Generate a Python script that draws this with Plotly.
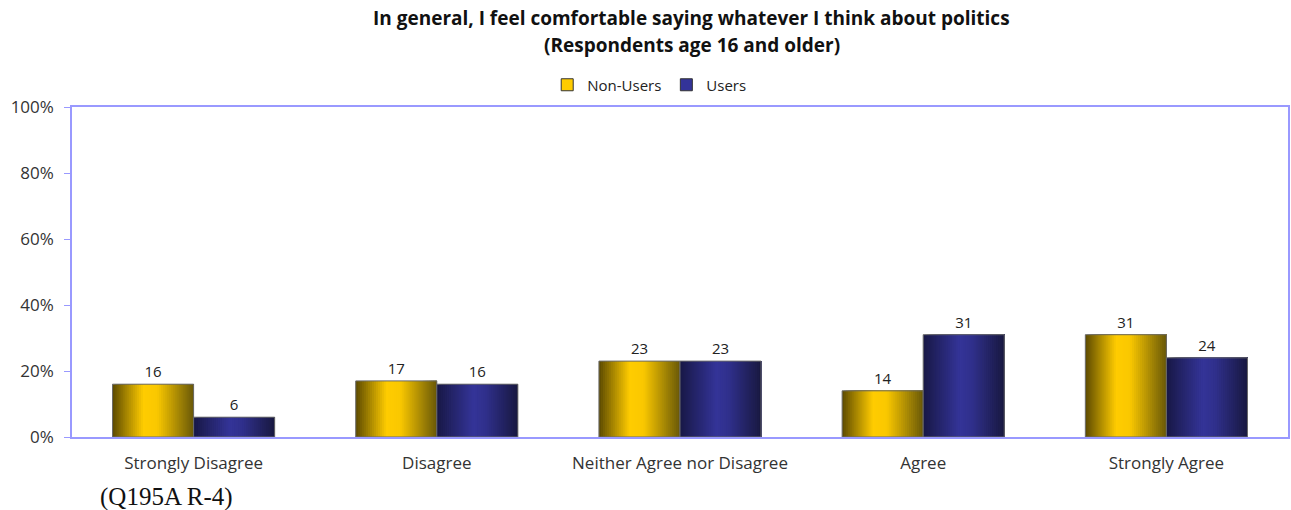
import plotly.graph_objects as go

categories = ["Strongly Disagree", "Disagree", "Neither Agree nor Disagree", "Agree", "Strongly Agree"]
non_users = [16, 17, 23, 14, 31]
users = [6, 16, 23, 31, 24]
y_ticks = [0, 20, 40, 60, 80, 100]
y_tick_labels = ["0%", "20%", "40%", "60%", "80%", "100%"]

BAR_W = 1 / 3
N_STRIPS = 40
FONT = "Open Sans"

def lerp(c1, c2, t):
    return tuple(int(round(a + (b - a) * t)) for a, b in zip(c1, c2))

def gradient(stops, t):
    for (p0, c0), (p1, c1) in zip(stops, stops[1:]):
        if p0 <= t <= p1:
            return lerp(c0, c1, (t - p0) / (p1 - p0))
    return stops[-1][1]

yellow_stops = [(0.0, (92, 74, 0)), (0.38, (255, 204, 0)), (0.55, (250, 200, 0)), (1.0, (105, 88, 8))]
blue_stops = [(0.0, (24, 24, 70)), (0.45, (52, 52, 152)), (0.6, (48, 48, 140)), (1.0, (24, 24, 64))]

series = [
    ("Non-Users", non_users, yellow_stops, -BAR_W, "#FFCC00"),
    ("Users", users, blue_stops, 0.0, "#333399"),
]

W, H = 1291, 510
ML, MT, MR, MB = 72, 107, 1, 73
PW, PH = W - ML - MR, H - MT - MB

def px_x(page_x):
    return (page_x - ML) / PW

def px_y(page_y):
    return 1 + (MT - page_y) / PH

fig = go.Figure()
for name, vals, stops, base_off, legend_col in series:
    sw = BAR_W / N_STRIPS
    for i in range(N_STRIPS):
        t = (i + 0.5) / N_STRIPS
        r, g, b = gradient(stops, t)
        fig.add_trace(go.Bar(
            x=categories, y=vals, offset=base_off + i * sw, width=BAR_W - i * sw,
            marker=dict(color=f"rgb({r},{g},{b})", line=dict(width=0)),
            showlegend=False, legendgroup=name, hoverinfo="skip",
        ))
    # outline + labels
    fig.add_trace(go.Bar(
        x=categories, y=vals, offset=base_off, width=BAR_W, name=name,
        marker=dict(color="rgba(0,0,0,0)", line=dict(color="#6a6a6a", width=1)),
        text=[str(v) for v in vals], textposition="outside",
        textfont=dict(size=15, color="#222", family=FONT),
        cliponaxis=False, showlegend=False, legendgroup=name,
    ))
    # legend entry
    fig.add_trace(go.Bar(
        x=[None], y=[None], name=name,
        marker=dict(color=legend_col, line=dict(color="#333", width=1)),
        showlegend=True, legendgroup=name,
    ))

fig.update_layout(
    width=W, height=H,
    barmode="overlay",
    paper_bgcolor="white", plot_bgcolor="white",
    margin=dict(l=ML, r=MR, t=MT, b=MB),
    font=dict(family=FONT, size=15, color="#333"),
    legend=dict(
        orientation="h", x=px_x(548), xanchor="left", y=px_y(85), yanchor="middle",
        font=dict(size=15, color="#222"), itemwidth=30, traceorder="normal",
        bgcolor="rgba(0,0,0,0)",
    ),
    xaxis=dict(
        type="category", showline=True, linecolor="#9999ff", linewidth=1.5, mirror=True,
        ticks="outside", ticklen=10, tickcolor="rgba(0,0,0,0)",
        tickfont=dict(size=17, color="#333"), showgrid=False, zeroline=False,
    ),
    yaxis=dict(
        range=[0, 100], tickvals=y_ticks, ticktext=y_tick_labels,
        showline=True, linecolor="#9999ff", linewidth=1.5, mirror=True,
        ticks="outside", ticklen=6, tickcolor="#9999ff", ticklabelstandoff=7,
        tickfont=dict(size=17, color="#333"), showgrid=False, zeroline=False,
    ),
    annotations=[
        dict(text="<b>In general, I feel comfortable saying whatever I think about politics</b>",
             xref="paper", yref="paper", x=px_x(693), y=px_y(18), xanchor="center", yanchor="middle",
             showarrow=False, font=dict(family=FONT, size=19, color="#111")),
        dict(text="<b>(Respondents age 16 and older)</b>",
             xref="paper", yref="paper", x=px_x(693), y=px_y(45), xanchor="center", yanchor="middle",
             showarrow=False, font=dict(family=FONT, size=19, color="#111")),
        dict(text="(Q195A R-4)", xref="paper", yref="paper", x=px_x(98), y=px_y(497),
             xanchor="left", yanchor="middle", showarrow=False,
             font=dict(family="Liberation Serif", size=25, color="#111")),
    ],
)

fig.write_html(
    "out.html",
    config={"displayModeBar": False},
    post_script="document.body.style.margin='0px';document.body.style.overflow='hidden';",
)
